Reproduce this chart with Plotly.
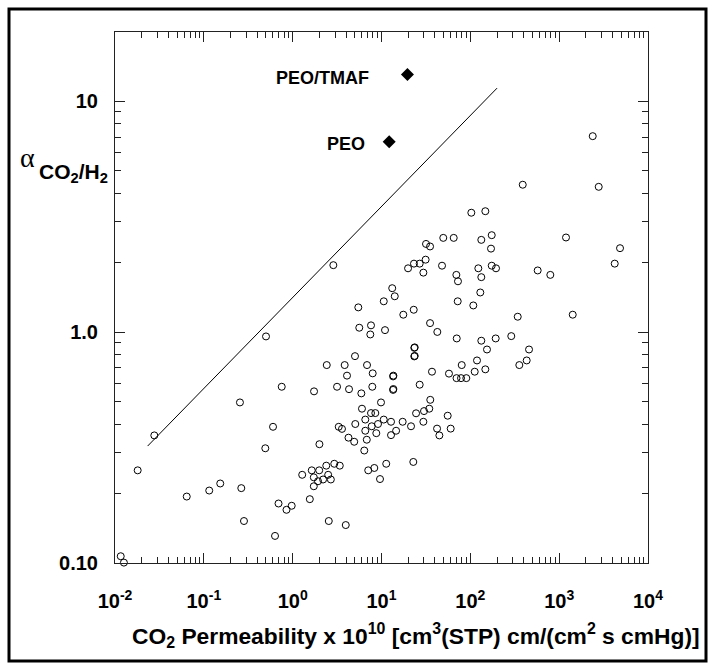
import plotly.graph_objects as go

# ---- data: open circles (CO2 permeability, CO2/H2 selectivity) ----
perm = [
    2.87, 13.2, 14.1, 10.6, 5.48, 5.62, 7.62, 7.48, 10.95, 0.501,
    5.03, 2.42, 3.85, 6.87, 7.96, 4.09, 13.6, 13.5, 13.6, 13.5,
    0.753, 1.74, 3.16, 4.31, 7.88, 5.93, 0.255, 9.87, 6.03, 7.62,
    8.52, 6.57, 10.6, 12.8, 5.07, 9.13, 7.76, 0.601, 3.30, 3.59,
    6.57, 14.6, 8.74, 12.8, 4.25, 6.83, 4.93, 2.0, 0.492, 6.40,
    2.94, 3.39, 2.39, 11.3, 1.64, 1.99, 7.09, 8.30, 0.018, 1.28,
    2.51, 1.73, 2.20, 2.69, 1.93, 9.62, 0.153, 1.73, 0.115, 0.264,
    0.0642, 1.56, 0.693, 0.975, 0.852, 0.283, 2.55, 3.96, 0.633, 0.0116,
    0.0126, 0.0277,
    2386, 389, 2787, 102.6, 147.5, 49.6, 65.0, 31.7, 35.2, 132.9,
    174.1, 170.9, 1194, 4842, 4220, 19.9, 23.2, 26.9, 31.4, 29.6,
    48.0, 69.6, 72.6, 123, 132.9, 174.1, 194.5, 573, 795, 129.5,
    72.1, 108, 17.6, 23.05, 35.2, 341.6, 1421, 42.5, 70.3, 132.9,
    193, 289, 154, 458, 23.65, 23.4, 23.65, 23.4, 80.0, 118.9,
    37.0, 57.5, 69.9, 78.6, 90.1, 112, 147.5, 356, 431, 26.9,
    35.4, 24.5, 30.1, 34.5, 55.6, 17.3, 21.5, 29.6, 42.2, 60.1,
    44.8, 22.8,
]
select = [
    1.95, 1.55, 1.43, 1.36, 1.28, 1.045, 1.07, 0.977, 1.02, 0.958,
    0.787, 0.72, 0.72, 0.72, 0.663, 0.648, 0.648, 0.643, 0.567, 0.562,
    0.58, 0.554, 0.58, 0.566, 0.58, 0.543, 0.496, 0.496, 0.466, 0.446,
    0.446, 0.418, 0.418, 0.409, 0.40, 0.40, 0.391, 0.389, 0.389, 0.381,
    0.374, 0.374, 0.365, 0.358, 0.349, 0.342, 0.335, 0.327, 0.314, 0.307,
    0.269, 0.264, 0.264, 0.269, 0.252, 0.252, 0.252, 0.258, 0.252, 0.241,
    0.241, 0.235, 0.230, 0.230, 0.226, 0.231, 0.221, 0.215, 0.206, 0.211,
    0.194, 0.189, 0.181, 0.177, 0.170, 0.152, 0.152, 0.146, 0.131, 0.107,
    0.1004, 0.357,
    7.06, 4.35, 4.26, 3.29, 3.34, 2.56, 2.56, 2.41, 2.35, 2.51,
    2.63, 2.30, 2.57, 2.31, 1.98, 1.89, 1.98, 1.98, 2.06, 1.81,
    1.94, 1.77, 1.66, 1.89, 1.73, 1.94, 1.89, 1.85, 1.77, 1.485,
    1.36, 1.305, 1.19, 1.25, 1.094, 1.166, 1.19, 1.002, 0.939, 0.918,
    0.939, 0.961, 0.841, 0.841, 0.859, 0.855, 0.789, 0.785, 0.72, 0.754,
    0.674, 0.661, 0.632, 0.632, 0.632, 0.674, 0.690, 0.72, 0.754, 0.592,
    0.509, 0.445, 0.455, 0.466, 0.4345, 0.409, 0.391, 0.409, 0.382, 0.382,
    0.357, 0.274,
]

# ---- upper bound line ----
bound_perm = [0.0233, 200]
bound_sel = [0.321, 11.4]

# ---- highlighted membranes ----
hl_names = ["PEO/TMAF", "PEO"]
hl_perm = [19.6, 12.2]
hl_sel = [13.05, 6.67]

x_tickvals = [0.01, 0.1, 1, 10, 100, 1000, 10000]
x_ticktext = ["10<sup>-2</sup>", "10<sup>-1</sup>", "10<sup>0</sup>", "10<sup>1</sup>",
              "10<sup>2</sup>", "10<sup>3</sup>", "10<sup>4</sup>"]
y_tickvals = [0.1, 1, 10]
y_ticktext = ["0.10", "1.0", "10"]

x_minor = [m * 10.0 ** e for e in range(-2, 4) for m in range(2, 10)]
y_minor = [m * 10.0 ** e for e in range(-1, 2) for m in range(2, 10)]

FONT = "Liberation Sans, Arial, sans-serif"
W, H = 715, 668
ML, MR, MT, MB = 115, 67, 32, 105
PW, PH = W - ML - MR, H - MT - MB


def px(xp):
    return (xp - ML) / PW


def py(yp):
    return (H - MB - yp) / PH


fig = go.Figure()
fig.add_trace(go.Scatter(
    x=bound_perm, y=bound_sel, mode="lines",
    line=dict(color="black", width=1), hoverinfo="skip", showlegend=False))
fig.add_trace(go.Scatter(
    x=perm, y=select, mode="markers", cliponaxis=False,
    marker=dict(symbol="circle-open", size=7, color="black", line=dict(width=1)),
    showlegend=False))
fig.add_trace(go.Scatter(
    x=hl_perm, y=hl_sel, mode="markers",
    marker=dict(symbol="diamond", size=10, color="black"),
    showlegend=False))


def axis_common(minor_vals):
    return dict(
        type="log", showline=True, linecolor="#222", linewidth=1, mirror="allticks",
        ticks="inside", ticklen=10, tickwidth=1, tickcolor="#222",
        showgrid=False, zeroline=False, tickmode="array",
        tickfont=dict(family=FONT, size=20, color="black", weight="bold"),
        minor=dict(ticks="inside", ticklen=6, tickwidth=1, tickcolor="#222",
                   tickmode="array", tickvals=minor_vals, showgrid=False),
    )


fig.update_xaxes(range=[-2, 4], tickvals=x_tickvals, ticktext=x_ticktext,
                 ticklabelstandoff=20, **axis_common(x_minor))
fig.update_yaxes(range=[-1, 1.3], tickvals=y_tickvals, ticktext=y_ticktext,
                 ticklabelstandoff=12, **axis_common(y_minor))

annotations = [
    dict(x=px(27), y=py(157), text="α", showarrow=False,
         font=dict(family="Liberation Serif, DejaVu Serif, serif", size=28, color="black"),
         xanchor="center", yanchor="middle"),
    dict(x=px(37), y=py(173), text="CO<sub>2</sub>/H<sub>2</sub>", showarrow=False,
         font=dict(family=FONT, size=21, color="black", weight="bold"),
         xanchor="left", yanchor="middle"),
    dict(x=px(416), y=py(636),
         text="CO<sub>2</sub> Permeability x 10<sup>10</sup> [cm<sup>3</sup>(STP) cm/(cm<sup>2</sup> s cmHg)]",
         showarrow=False,
         font=dict(family=FONT, size=22.8, color="black", weight="bold"),
         xanchor="center", yanchor="middle"),
    dict(x=px(371), y=py(78), text=hl_names[0], showarrow=False,
         font=dict(family=FONT, size=18, color="black", weight="bold"),
         xanchor="right", yanchor="middle"),
    dict(x=px(367), y=py(144), text=hl_names[1], showarrow=False,
         font=dict(family=FONT, size=18, color="black", weight="bold"),
         xanchor="right", yanchor="middle"),
]
for a in annotations:
    a["xref"] = "paper"
    a["yref"] = "paper"

fig.update_layout(
    width=W, height=H,
    margin=dict(l=ML, r=MR, t=MT, b=MB),
    plot_bgcolor="white", paper_bgcolor="white",
    annotations=annotations,
    shapes=[dict(type="rect", xref="paper", yref="paper",
                 x0=px(9), x1=px(706), y0=py(661), y1=py(9),
                 line=dict(color="black", width=3), fillcolor="rgba(0,0,0,0)",
                 layer="above")],
)

fig.write_html("out.html")
